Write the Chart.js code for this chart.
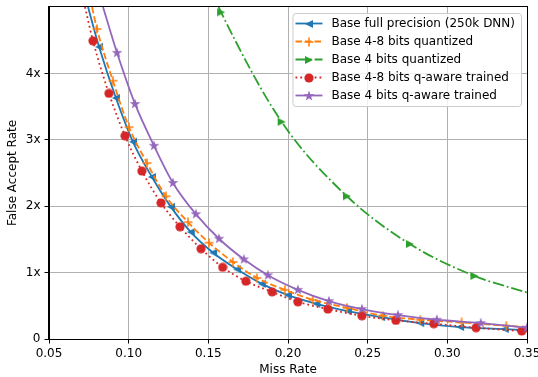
<!DOCTYPE html>
<html>
<head>
<meta charset="utf-8">
<script src="https://cdn.jsdelivr.net/npm/chart.js@4"></script>
<style>
  html, body { margin: 0; padding: 0; background: #fff; }
  #wrap { width: 538px; height: 377px; }
</style>
</head>
<body>
<div id="wrap"><canvas id="chart"></canvas></div>
<script>
// tick values / labels
const xTicks = [0.05, 0.10, 0.15, 0.20, 0.25, 0.30, 0.35];
const yTicks = [0, 1, 2, 3, 4];
const yTickLabels = ['0', '1x', '2x', '3x', '4x'];

const seriesLabels = [
  'Base full precision (250k DNN)',
  'Base 4-8 bits quantized',
  'Base 4 bits quantized',
  'Base 4-8 bits q-aware trained',
  'Base 4 bits q-aware trained'
];

// values (first point = where a curve leaves the top)
const fullX = [0.0745, 0.0814, 0.0920, 0.1027, 0.1146, 0.1265, 0.1390, 0.1530, 0.1680, 0.1836, 0.2000, 0.2178, 0.2376, 0.2585, 0.2830, 0.3080, 0.3360, 0.3500];
const fullY = [5.00, 4.40, 3.63, 2.97, 2.44, 1.99, 1.61, 1.30, 1.05, 0.83, 0.66, 0.53, 0.42, 0.33, 0.24, 0.18, 0.15, 0.13];

const q48X = [0.0770, 0.0801, 0.0901, 0.1002, 0.1115, 0.1234, 0.1372, 0.1504, 0.1654, 0.1805, 0.1980, 0.2156, 0.2370, 0.2595, 0.2830, 0.3090, 0.3370, 0.3500];
const q48Y = [5.00, 4.67, 3.89, 3.19, 2.65, 2.15, 1.76, 1.45, 1.16, 0.92, 0.74, 0.59, 0.47, 0.35, 0.29, 0.25, 0.20, 0.18];

const q4X = [0.1565, 0.1580, 0.1960, 0.2370, 0.2765, 0.3170, 0.3500];
const q4Y = [5.00, 4.92, 3.27, 2.15, 1.43, 0.95, 0.70];

const qa48X = [0.0726, 0.0776, 0.0876, 0.0977, 0.1083, 0.1203, 0.1322, 0.1454, 0.1590, 0.1736, 0.1900, 0.2062, 0.2250, 0.2464, 0.2677, 0.2915, 0.3180, 0.3467, 0.3500];
const qa48Y = [5.00, 4.49, 3.70, 3.06, 2.53, 2.05, 1.69, 1.36, 1.08, 0.87, 0.71, 0.56, 0.45, 0.35, 0.28, 0.23, 0.17, 0.12, 0.115];

const qa4X = [0.0839, 0.0927, 0.1040, 0.1159, 0.1278, 0.1422, 0.1567, 0.1723, 0.1874, 0.2062, 0.2257, 0.2464, 0.2690, 0.2934, 0.3210, 0.3500];
const qa4Y = [5.00, 4.31, 3.54, 2.91, 2.35, 1.88, 1.51, 1.20, 0.96, 0.74, 0.57, 0.45, 0.36, 0.29, 0.24, 0.17];

// matplotlib-like markers as small canvases
function marker(size, draw) {
  const c = document.createElement('canvas');
  c.width = size; c.height = size;
  draw(c.getContext('2d'), size / 2);
  return c;
}
function triangle(color, dir) {
  return marker(10, (g, m) => {
    g.fillStyle = color;
    g.beginPath();
    g.moveTo(m + dir * 4, m);
    g.lineTo(m - dir * 4, m - 4);
    g.lineTo(m - dir * 4, m + 4);
    g.closePath();
    g.fill();
  });
}
const mkLeft = triangle('#1f77b4', -1);
const mkRight = triangle('#2ca02c', 1);
const mkPlus = marker(10, (g, m) => {
  g.strokeStyle = '#ff7f0e'; g.lineWidth = 1.6;
  g.beginPath();
  g.moveTo(m - 4.5, m); g.lineTo(m + 4.5, m);
  g.moveTo(m, m - 4.5); g.lineTo(m, m + 4.5);
  g.stroke();
});
const mkCircle = marker(10, (g, m) => {
  g.fillStyle = '#d62728';
  g.beginPath(); g.arc(m, m, 4.6, 0, Math.PI * 2); g.fill();
});
const mkStar = marker(12, (g, m) => {
  g.fillStyle = '#9467bd';
  g.beginPath();
  for (let k = 0; k < 10; k++) {
    const r = k % 2 ? 2.2 : 5.6;
    const a = -Math.PI / 2 + k * Math.PI / 5;
    g.lineTo(m + r * Math.cos(a), m + r * Math.sin(a));
  }
  g.closePath(); g.fill();
});

function series(label, xs, ys, color, dash, mk, radii, order) {
  return {
    label,
    data: xs.map((x, i) => ({ x, y: ys[i] })),
    borderColor: color,
    backgroundColor: color,
    borderWidth: 1.8,
    borderDash: dash,
    pointStyle: mk,
    pointRadius: radii,
    pointHoverRadius: radii,
    cubicInterpolationMode: 'monotone',
    clip: 0,
    order
  };
}
// marker flags: 0 = plain line point, 1 = marker shown
const withEnds = (n, lastMarked) => Array.from({ length: n }, (_, i) => (i === 0 || (i === n - 1 && !lastMarked)) ? 0 : 4);

const datasets = [
  series(seriesLabels[0], fullX, fullY, '#1f77b4', [], mkLeft, withEnds(fullX.length, false), 5),
  series(seriesLabels[1], q48X, q48Y, '#ff7f0e', [6.6, 2.9], mkPlus, withEnds(q48X.length, false), 4),
  series(seriesLabels[2], q4X, q4Y, '#2ca02c', [11.5, 2.9, 1.8, 2.9], mkRight, withEnds(q4X.length, false), 3),
  series(seriesLabels[3], qa48X, qa48Y, '#d62728', [1.8, 3.0], mkCircle, withEnds(qa48X.length, false), 2),
  series(seriesLabels[4], qa4X, qa4Y, '#9467bd', [], mkStar, withEnds(qa4X.length, true), 1)
];

function roundRect(ctx, x, y, w, h, r) {
  ctx.beginPath();
  ctx.moveTo(x + r, y);
  ctx.lineTo(x + w - r, y); ctx.arcTo(x + w, y, x + w, y + r, r);
  ctx.lineTo(x + w, y + h - r); ctx.arcTo(x + w, y + h, x + w - r, y + h, r);
  ctx.lineTo(x + r, y + h); ctx.arcTo(x, y + h, x, y + h - r, r);
  ctx.lineTo(x, y + r); ctx.arcTo(x, y, x + r, y, r);
  ctx.closePath();
}

// top/right spines + legend box in matplotlib style
const frameAndLegend = {
  id: 'frameAndLegend',
  afterDatasetsDraw(chart) {
    const { ctx, chartArea: a } = chart;
    ctx.save();
    ctx.strokeStyle = '#000'; ctx.lineWidth = 1;
    ctx.strokeRect(Math.round(a.left) - 0.5, Math.round(a.top) - 0.5, Math.round(a.right - a.left) + 1, Math.round(a.bottom - a.top) + 1);

    ctx.font = '12px "DejaVu Sans"';
    const textW = Math.max(...seriesLabels.map(t => ctx.measureText(t).width));
    const right = a.right - 6, top = a.top + 6;
    const w = textW + 45, h = 93;
    const left = right - w;
    roundRect(ctx, left + 0.5, top + 0.5, w, h, 3);
    ctx.fillStyle = 'rgba(255,255,255,0.8)'; ctx.fill();
    ctx.strokeStyle = '#cccccc'; ctx.stroke();

    datasets.forEach((ds, i) => {
      const y = top + 10.5 + i * 18;
      ctx.beginPath();
      ctx.setLineDash(ds.borderDash);
      ctx.strokeStyle = ds.borderColor; ctx.lineWidth = ds.borderWidth;
      ctx.moveTo(left + 3, y); ctx.lineTo(left + 30, y); ctx.stroke();
      ctx.setLineDash([]);
      const m = ds.pointStyle;
      ctx.drawImage(m, Math.round(left + 16.5 - m.width / 2), Math.round(y - m.height / 2));
      ctx.fillStyle = '#000'; ctx.textBaseline = 'middle'; ctx.textAlign = 'left';
      ctx.fillText(ds.label, left + 39, y);
    });
    ctx.restore();
  }
};

Chart.defaults.font.family = '"DejaVu Sans"';
Chart.defaults.font.size = 12;
Chart.defaults.color = '#000';

new Chart(document.getElementById('chart'), {
  type: 'line',
  data: { datasets },
  options: {
    responsive: true,
    maintainAspectRatio: false,
    animation: false,
    layout: { padding: { top: 7, right: 11, left: 0, bottom: 0 } },
    plugins: { legend: { display: false }, tooltip: { enabled: false } },
    scales: {
      x: {
        type: 'linear',
        min: 0.05, max: 0.35,
        afterBuildTicks: (axis) => { axis.ticks = xTicks.map(v => ({ value: v })); },
        afterFit: (axis) => { axis.height = 38; axis.paddingLeft = 0; axis.paddingRight = 0; },
        ticks: { autoSkip: false, maxRotation: 0, padding: 3, callback: (v) => v.toFixed(2) },
        grid: { color: '#b0b0b0', lineWidth: 1, tickColor: '#000', tickLength: 4.5, tickWidth: 1 },
        border: { display: true, color: '#000', width: 1 },
        title: { display: true, text: 'Miss Rate', padding: { top: 0, bottom: 0 } }
      },
      y: {
        type: 'linear',
        min: 0, max: 5,
        afterBuildTicks: (axis) => { axis.ticks = yTicks.map(v => ({ value: v })); },
        afterFit: (axis) => { axis.width = 49; axis.paddingTop = 0; axis.paddingBottom = 0; },
        ticks: { padding: 4, callback: (v) => yTickLabels[yTicks.indexOf(v)] },
        grid: { color: '#b0b0b0', lineWidth: 1, tickColor: '#000', tickLength: 4.5, tickWidth: 1 },
        border: { display: true, color: '#000', width: 1 },
        title: { display: true, text: 'False Accept Rate', padding: { top: 6, bottom: 0 } }
      }
    }
  },
  plugins: [frameAndLegend]
});
</script>
</body>
</html>
